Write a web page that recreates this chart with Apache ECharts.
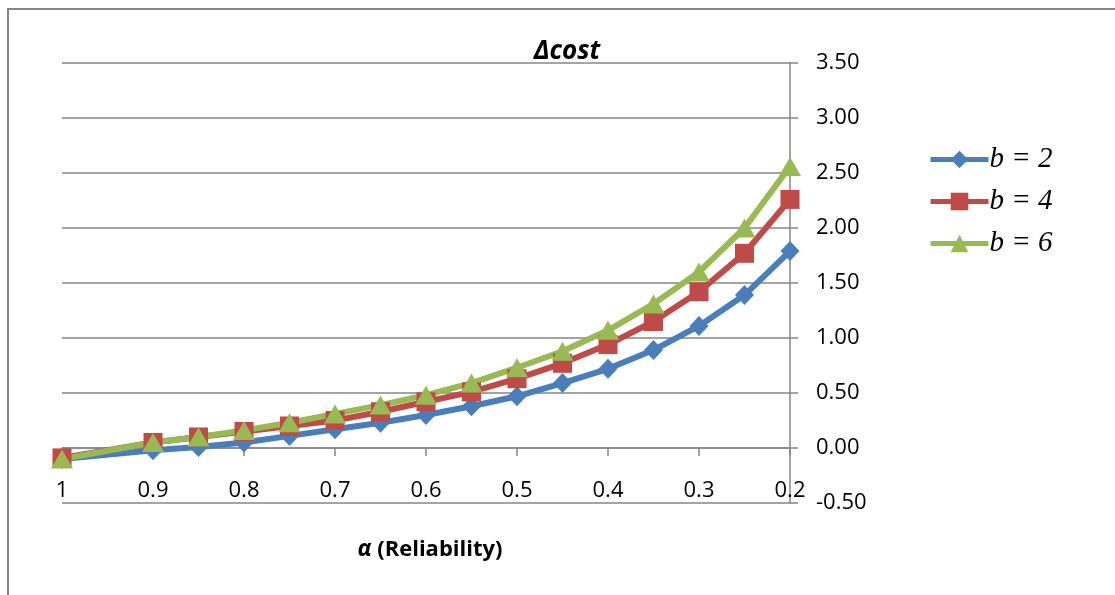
<!DOCTYPE html>
<html>
<head>
<meta charset="utf-8">
<script src="https://cdn.jsdelivr.net/npm/echarts@6/dist/echarts.min.js"></script>
<style>
html,body{margin:0;padding:0;background:#fff;}
#chart{width:1115px;height:595px;}
</style>
</head>
<body>
<div id="chart"></div>
<script>
var alphas = [1, 0.9, 0.85, 0.8, 0.75, 0.7, 0.65, 0.6, 0.55, 0.5, 0.45, 0.4, 0.35, 0.3, 0.25, 0.2];
var b2 = [-0.10, -0.02, 0.01, 0.05, 0.11, 0.17, 0.23, 0.30, 0.38, 0.47, 0.59, 0.72, 0.89, 1.11, 1.39, 1.79];
var b4 = [-0.09, 0.05, 0.10, 0.15, 0.20, 0.25, 0.33, 0.42, 0.51, 0.63, 0.77, 0.94, 1.15, 1.42, 1.77, 2.26];
var b6 = [-0.10, 0.05, 0.10, 0.16, 0.23, 0.31, 0.39, 0.48, 0.59, 0.73, 0.88, 1.07, 1.31, 1.60, 2.00, 2.56];
var seriesNames = ['b = 2', 'b = 4', 'b = 6'];
var yTickMin = -0.5, yTickMax = 3.5, yTickStep = 0.5;
var xTickMin = 0.2, xTickMax = 1, xTickStep = 0.1;

function pairs(ys){ return alphas.map(function(a,i){ return [a, ys[i]]; }); }

var gray = '#868686';
var font = '"Open Sans", Lato, sans-serif';
var chart = echarts.init(document.getElementById('chart'));
chart.setOption({
  animation: false,
  backgroundColor: '#fff',
  title: [
    { text: 'Δcost', left: 562, top: 34, textAlign: 'center',
      textStyle: { fontFamily: font, fontWeight: 'bold', fontStyle: 'italic', fontSize: 26, color: '#000' } },
    { text: '{a|α} (Reliability)', left: 425, top: 533, textAlign: 'center',
      textStyle: { fontFamily: font, fontWeight: 'bold', fontSize: 22, color: '#000',
        rich: { a: { fontFamily: font, fontWeight: 'bold', fontStyle: 'italic', fontSize: 23, color: '#000' } } } }
  ],
  graphic: [
    { type: 'rect', shape: { x: 8, y: 9, width: 1300, height: 800 },
      style: { fill: 'none', stroke: gray, lineWidth: 2 }, silent: true }
  ],
  legend: {
    orient: 'vertical', left: 923, top: 140, itemWidth: 58, itemHeight: 22, itemGap: 13,
    data: seriesNames,
    lineStyle: { width: 5 },
    textStyle: { fontFamily: '"Liberation Serif", "DejaVu Serif", serif', fontStyle: 'italic', fontSize: 29, color: '#000', padding: [0,0,0,-4], lineHeight: 22 }
  },
  grid: { left: 62, right: 325, top: 63, bottom: 92, containLabel: false },
  xAxis: {
    type: 'value', inverse: true, min: xTickMin, max: xTickMax, interval: xTickStep,
    offset: -55,
    axisLine: { onZero: false, lineStyle: { color: gray, width: 1.5 } },
    axisTick: { show: true, length: 8, lineStyle: { color: gray, width: 1.5 } },
    splitLine: { show: false },
    axisLabel: { margin: 32, fontFamily: font, fontSize: 22, color: '#000',
      showMinLabel: true, showMaxLabel: true,
      formatter: function(v){ return String(Math.round(v*10)/10); } }
  },
  yAxis: {
    type: 'value', position: 'right', min: yTickMin, max: yTickMax, interval: yTickStep,
    axisLine: { show: true, lineStyle: { color: gray, width: 1.5 } },
    axisTick: { show: true, length: 8, lineStyle: { color: gray, width: 1.5 } },
    splitLine: { show: true, lineStyle: { color: gray, width: 1.5 } },
    axisLabel: { margin: 26, fontFamily: font, fontSize: 22, color: '#000',
      formatter: function(v){ return v.toFixed(2); } }
  },
  series: [
    { name: seriesNames[0], type: 'line', data: pairs(b2), symbol: 'diamond', symbolSize: [19,20],
      lineStyle: { width: 6, color: '#4A7EBB' }, itemStyle: { color: '#4A7EBB' } },
    { name: seriesNames[1], type: 'line', data: pairs(b4), symbol: 'rect', symbolSize: 19,
      lineStyle: { width: 6, color: '#BE4B48' }, itemStyle: { color: '#BE4B48' } },
    { name: seriesNames[2], type: 'line', data: pairs(b6), symbol: 'triangle', symbolSize: [22,19],
      lineStyle: { width: 6, color: '#98B954' }, itemStyle: { color: '#98B954' } }
  ]
});
</script>
</body>
</html>
